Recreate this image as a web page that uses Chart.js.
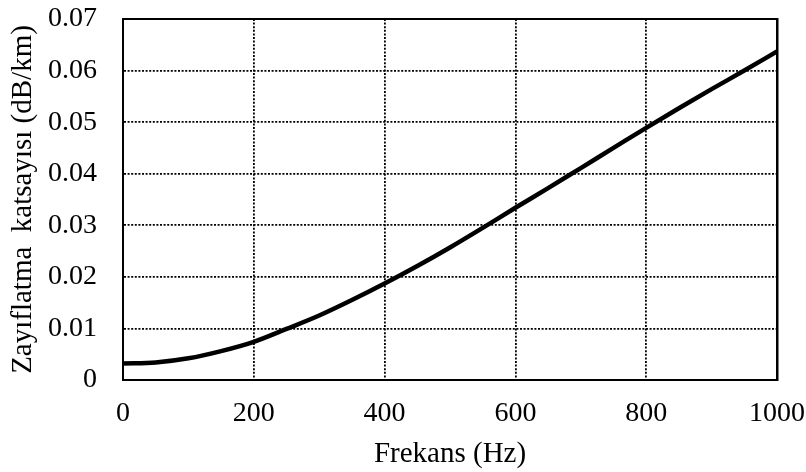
<!DOCTYPE html>
<html>
<head>
<meta charset="utf-8">
<script src="https://cdn.jsdelivr.net/npm/chart.js@4/dist/chart.umd.min.js"></script>
<style>
  body { margin:0; background:#fff; }
  #wrap { width:806px; height:472px; }
</style>
</head>
<body>
<div id="wrap"><canvas id="att_chart" width="806" height="472"></canvas></div>
<script>
// frekans (Hz) ve zayiflatma katsayisi (dB/km)
const freqs = [0, 50, 100, 150, 200, 250, 300, 350, 400, 450, 500,
               550, 600, 650, 700, 750, 800, 850, 900, 950, 1000];
const attenuation = [0.0032, 0.0034, 0.0042, 0.0056, 0.0074, 0.0099, 0.0125, 0.0155, 0.0187, 0.0221, 0.0257,
                     0.0295, 0.0334, 0.0372, 0.0411, 0.0450, 0.0489, 0.0527, 0.0564, 0.0600, 0.0637];
const xTitle = "Frekans (Hz)";
const yTitle = "Zayıflatma  katsayısı (dB/km)";

let pts = new Array();
for(let i=0; i<freqs.length; i++) {
    pts.push({x:freqs[i], y:attenuation[i]});
}

const serif = "'Liberation Serif', 'Times New Roman', serif";

let attChart = new Chart(document.getElementById("att_chart"), {
    type:"line",
    data:{
        datasets:[{
            data:pts,
            borderColor:"#000",
            borderWidth:4.5,
            pointRadius:0,
            cubicInterpolationMode:"monotone",
            fill:false
        }]
    },
    options:{
        responsive:false,
        animation:false,
        layout:{ padding:{ top:19, right:29, left:0, bottom:0 } },
        plugins:{ legend:{display:false}, tooltip:{enabled:false} },
        scales:{
            x:{
                type:"linear", position:"bottom", min:0, max:1000,
                afterFit:function(s){ s.height = 92; },
                ticks:{ stepSize:200, color:"#000", padding:0, maxRotation:0,
                        font:{family:serif, size:28},
                        callback:function(v){ return String(v); } },
                grid:{ color:"#000", lineWidth:1.8, drawTicks:true, tickLength:17,
                       tickColor:"rgba(0,0,0,0)" },
                border:{ color:"#000", width:2, dash:[2,1.6] },
                title:{ display:true, text:xTitle, color:"#000",
                        font:{family:serif, size:29}, padding:{top:0, bottom:0} }
            },
            y:{
                type:"linear", position:"left", min:0, max:0.07,
                afterFit:function(s){ s.width = 123; },
                ticks:{ stepSize:0.01, color:"#000", padding:0,
                        font:{family:serif, size:28},
                        callback:function(v){ return v === 0 ? "0" : v.toFixed(2); } },
                grid:{ color:"#000", lineWidth:1.8, drawTicks:true, tickLength:26,
                       tickColor:"rgba(0,0,0,0)" },
                border:{ color:"#000", width:2, dash:[2,1.6] },
                title:{ display:true, text:yTitle, color:"#000",
                        font:{family:serif, size:29}, padding:{top:6, bottom:0} }
            },
            x2:{
                type:"linear", position:"top", min:0, max:1000,
                afterFit:function(s){ s.height = 0; },
                ticks:{display:false},
                grid:{display:false, drawTicks:false},
                border:{ color:"#000", width:2 }
            },
            y2:{
                type:"linear", position:"right", min:0, max:0.07,
                afterFit:function(s){ s.width = 0; },
                ticks:{display:false},
                grid:{display:false, drawTicks:false},
                border:{ color:"#000", width:2.5 }
            }
        }
    }
});
</script>
</body>
</html>
